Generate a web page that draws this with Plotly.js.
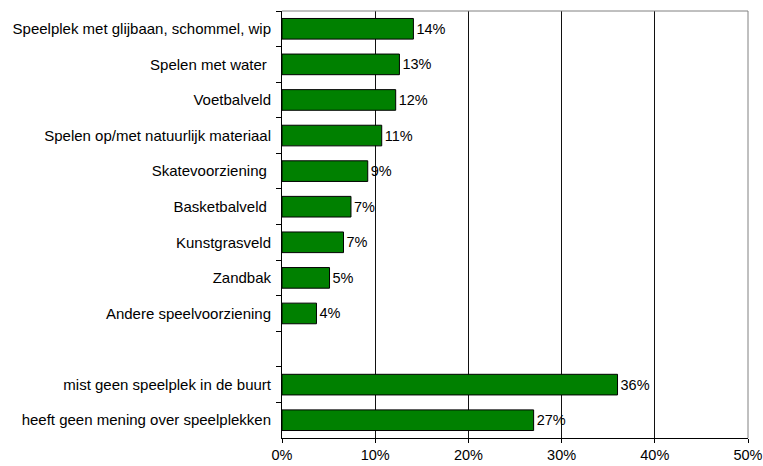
<!DOCTYPE html>
<html>
<head>
<meta charset="utf-8">
<script src="https://cdn.plot.ly/plotly-3.0.1.min.js"></script>
<style>html,body{margin:0;padding:0;background:#fff;}#chart{width:763px;height:466px;}</style>
</head>
<body>
<div id="chart"></div>
<script>
var categories = [
  "Speelplek met glijbaan, schommel, wip",
  "Spelen met water\u00a0",
  "Voetbalveld",
  "Spelen op/met natuurlijk materiaal",
  "Skatevoorziening\u00a0",
  "Basketbalveld\u00a0",
  "Kunstgrasveld",
  "Zandbak",
  "Andere speelvoorziening",
  " ",
  "mist geen speelplek in de buurt",
  "heeft geen mening over speelplekken"
];
var values = [14.1, 12.6, 12.2, 10.7, 9.2, 7.4, 6.6, 5.1, 3.7, null, 36.0, 27.0];
var labels = ["14%", "13%", "12%", "11%", "9%", "7%", "7%", "5%", "4%", "", "36%", "27%"];
var xTickVals = [0, 10, 20, 30, 40, 50];
var xTickText = ["0%", "10%", "20%", "30%", "40%", "50%"];

var font = "Liberation Sans, Arial, sans-serif";

var trace = {
  type: "bar",
  orientation: "h",
  y: categories,
  x: values,
  text: labels,
  textposition: "outside",
  cliponaxis: false,
  textfont: {family: font, size: 14.5, color: "#000"},
  marker: {color: "#008000", line: {color: "#000", width: 1}},
  hoverinfo: "none"
};

var layout = {
  width: 763,
  height: 466,
  margin: {l: 282, r: 15, t: 11, b: 28, pad: 0},
  paper_bgcolor: "#fff",
  plot_bgcolor: "#fff",
  showlegend: false,
  bargap: 0.42,
  font: {family: font, size: 15, color: "#000"},
  xaxis: {
    range: [0, 50],
    tickvals: xTickVals,
    ticktext: xTickText,
    showgrid: true,
    gridcolor: "#111",
    gridwidth: 1,
    zeroline: false,
    showline: true,
    linecolor: "#000",
    linewidth: 1,
    mirror: false,
    ticks: "outside",
    ticklen: 4,
    tickcolor: "#000",
    tickfont: {family: font, size: 14.5, color: "#000"}
  },
  yaxis: {
    type: "category",
    categoryorder: "array",
    categoryarray: categories,
    autorange: "reversed",
    showgrid: false,
    zeroline: false,
    showline: true,
    linecolor: "#000",
    linewidth: 1,
    mirror: false,
    ticks: "outside",
    tickson: "boundaries",
    ticklen: 5,
    tickcolor: "#000",
    ticklabelstandoff: 7,
    tickfont: {family: font, size: 15, color: "#000"}
  },
  shapes: [
    {type: "line", xref: "paper", yref: "paper", x0: 0, x1: 1, y0: 1, y1: 1,
     line: {color: "#808080", width: 1}},
    {type: "line", xref: "paper", yref: "paper", x0: 1, x1: 1, y0: 0, y1: 1,
     line: {color: "#808080", width: 1}}
  ]
};

Plotly.newPlot("chart", [trace], layout, {displayModeBar: false, staticPlot: true});
</script>
</body>
</html>
